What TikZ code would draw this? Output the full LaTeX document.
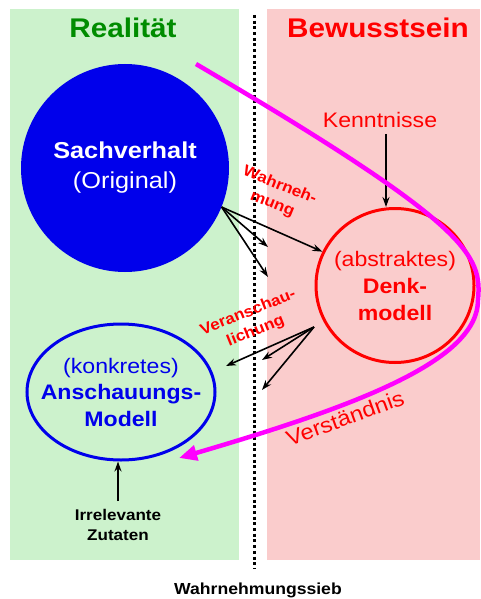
\documentclass[tikz,border=0pt]{standalone}
\usepackage{fontspec}
\setmainfont{Liberation Sans}[FakeStretch=1.1]
\usetikzlibrary{positioning,arrows.meta,shapes.geometric}

\definecolor{realgreen}{RGB}{0,140,0}
\definecolor{bggreen}{RGB}{204,242,204}
\definecolor{bgpink}{RGB}{250,204,204}
\definecolor{magline}{RGB}{255,0,255}
\definecolor{sachblue}{RGB}{0,0,235}

\begin{document}
\begin{tikzpicture}[
    x=1pt, y=-1pt,
    >={Stealth[length=10pt,width=7pt]},
    every node/.style={inner sep=0pt},
    fan/.style={->, line width=1.6pt},
    redlabel/.style={text=red, align=center, font=\bfseries\fontsize{15.5}{20}\selectfont}
]

\useasboundingbox (0,0) rectangle (480,599);
\fill[bggreen] (10,9) rectangle (239,560);
\fill[bgpink] (267,9) rectangle (480,560);
\draw[line width=3pt, dash pattern=on 3pt off 2.7pt] (254,15) -- (254,568);

\node[text=realgreen, font=\bfseries\fontsize{27}{32}\selectfont] (real) at (123,28) {Realität};
\node[text=red, font=\bfseries\fontsize{27}{32}\selectfont] (bew) at (378,28) {Bewusstsein};

\node[circle, fill=sachblue, minimum size=208pt, text=white, align=center,
      font=\fontsize{23}{30}\selectfont] (sach) at (125,168) {\textbf{Sachverhalt}\\(Original)};

\node[ellipse, draw=red, line width=3pt, minimum width=158pt, minimum height=154pt,
      inner xsep=-40pt, text=red, align=center, font=\fontsize{21}{27}\selectfont]
      (denk) at (395,285.5) {(abstraktes)\\\textbf{Denk-}\\\textbf{modell}};

\node[ellipse, draw=sachblue, line width=3pt, minimum width=188pt, minimum height=136pt,
      inner xsep=-50pt, text=sachblue, align=center, font=\fontsize{21}{26.5}\selectfont]
      (ansch) at (121,392) {(konkretes)\\\textbf{Anschauungs-}\\\textbf{Modell}};

\node[text=red, font=\fontsize{21}{25}\selectfont] (kennt) at (380,120) {Kenntnisse};
\node[font=\bfseries\fontsize{15.5}{20}\selectfont, align=center] (zut) at (118,525) {Irrelevante\\Zutaten};
\node[font=\bfseries\fontsize{16}{19}\selectfont] (sieb) at (258,590) {Wahrnehmungssieb};

\node[redlabel, rotate=-22] (wahr) at (276,195) {Wahrneh-\\mung};
\node[redlabel, rotate=22] (veran) at (252,322) {Veranschau-\\lichung};
\node[text=red, font=\fontsize{21.5}{25}\selectfont, rotate=20] (verst) at (345,418) {Verständnis};

% Wahrnehmung
\coordinate (w1) at (268,247);
\coordinate (w2) at (268,277);
\draw[fan] (sach.-22) -- (denk.155);
\draw[fan] (sach.-22) -- (w1);
\draw[fan] (sach.-22) -- (w2);

% Veranschaulichung
\coordinate (vsrc) at (314,327);
\coordinate (v1) at (226,366);
\coordinate (v2) at (262,360);
\coordinate (v3) at (262,390);
\draw[fan] (vsrc) -- (v1);
\draw[fan] (vsrc) -- (v2);
\draw[fan] (vsrc) -- (v3);

\draw[->, line width=2pt] ([xshift=6pt,yshift=-6pt]kennt.south) -- ([xshift=-9pt]denk.north);
\draw[->, line width=2pt, shorten <=8pt] (zut.north) -- (zut.north |- ansch.south);

% Verstaendnis
\coordinate (mstart) at (196,64);
\coordinate (mtip) at (179,458);
\draw[magline, line width=4.5pt, -{Triangle[length=18pt,width=15pt]}]
    (mstart) .. controls (470,225) and (482,255) .. (478,300)
    .. controls (478,360) and (360,405) .. (mtip);

\end{tikzpicture}
\end{document}
